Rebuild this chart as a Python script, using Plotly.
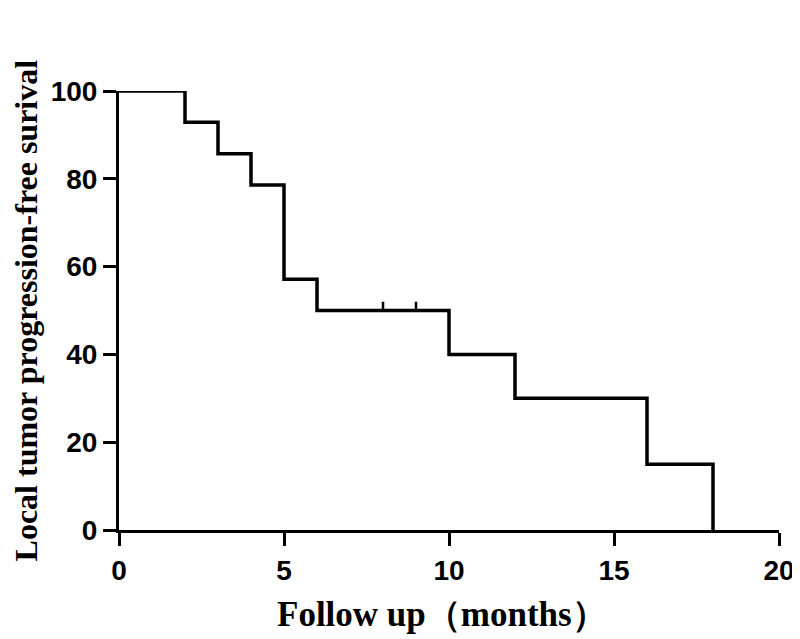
"""Kaplan-Meier curve of local tumor progression-free survival."""

import plotly.graph_objects as go

# event times (months) and survival (%) after each step
times = [0, 2, 3, 4, 5, 6, 10, 12, 16, 18]
survival = [100, 92.9, 85.7, 78.6, 57.1, 50, 40, 30, 15, 0]

# censored observations
censor_times = [8, 9]
censor_survival = [50, 50]

x_ticks = [0, 5, 10, 15, 20]
y_ticks = [0, 20, 40, 60, 80, 100]

x_title = "Follow up（months）"
y_title = "Local tumor progression-free surival"


def main():
    fig = go.Figure()

    fig.add_trace(go.Scatter(
        x=times, y=survival, mode="lines", line_shape="hv",
        line=dict(color="black", width=3.5), cliponaxis=False,
        hoverinfo="skip",
    ))

    # censor ticks drawn as upward-only error bars
    fig.add_trace(go.Scatter(
        x=censor_times, y=censor_survival, mode="markers",
        marker=dict(size=1, color="rgba(0,0,0,0)"),
        error_y=dict(type="constant", value=2, valueminus=0, symmetric=False,
                     color="black", thickness=2.5, width=0),
        cliponaxis=False, hoverinfo="skip",
    ))

    axis_style = dict(
        showline=True, linecolor="black", linewidth=3, mirror=False,
        showgrid=False, zeroline=False, automargin=False,
        ticks="outside", ticklen=13, tickwidth=3, tickcolor="black",
        tickfont=dict(family="Liberation Sans", size=28, color="black", weight="bold"),
    )

    fig.update_xaxes(range=[0, 20], tickvals=x_ticks, **axis_style)
    fig.update_yaxes(range=[0, 100], tickvals=y_ticks, **axis_style)

    x_font = dict(family="Liberation Serif", size=35, color="black", weight="bold")
    y_font = dict(family="Liberation Serif", size=32, color="black", weight="bold")
    fig.add_annotation(text=x_title, xref="paper", yref="paper", x=0.49, y=-0.192,
                       xanchor="center", yanchor="middle", showarrow=False, font=x_font)
    fig.add_annotation(text=y_title, xref="paper", yref="paper", x=-0.141, y=0.5,
                       xanchor="center", yanchor="middle", textangle=-90,
                       showarrow=False, font=y_font)

    # the page adds an 8px body margin, so the figure is sized to fit the window
    fig.update_layout(
        width=792, height=631,
        margin=dict(l=111, r=21, t=83, b=109),
        plot_bgcolor="white", paper_bgcolor="white",
        showlegend=False,
    )

    fig.write_html("out.html")


if __name__ == "__main__":
    main()
